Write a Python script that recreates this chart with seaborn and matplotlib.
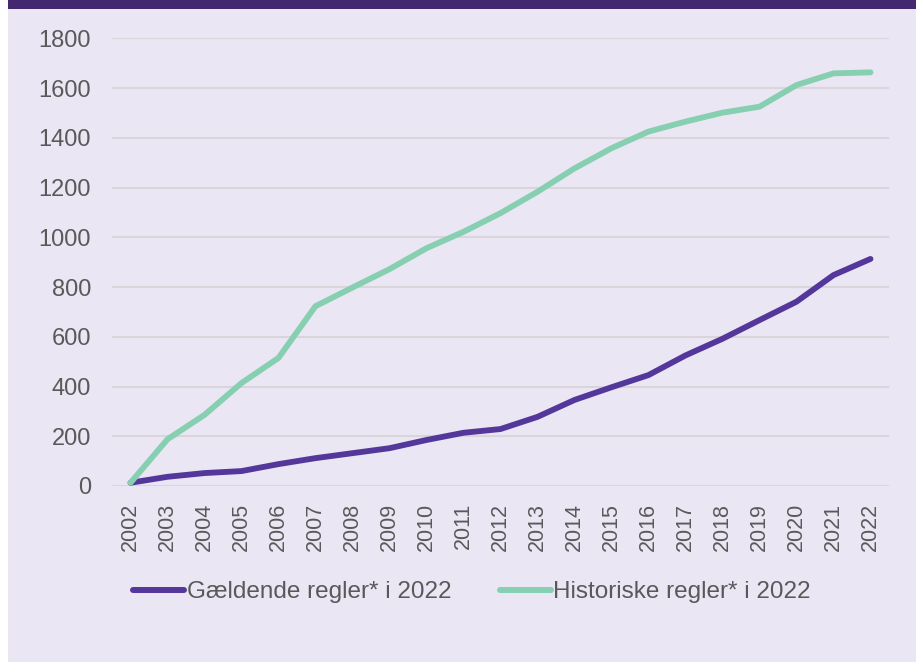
import pandas as pd
import seaborn as sns
import matplotlib.pyplot as plt
from matplotlib.patches import Rectangle

# Data
years = list(range(2002, 2023))
gaeldende = [13, 37, 52, 60, 88, 112, 132, 152, 185, 214, 229, 278, 346, 397, 446, 525, 592, 667, 741, 848, 913]
historiske = [13, 188, 286, 414, 515, 723, 798, 872, 956, 1022, 1097, 1183, 1277, 1358, 1425, 1465, 1501, 1525, 1612, 1659, 1663]
series_names = ["Gældende regler* i 2022", "Historiske regler* i 2022"]
colors = ["#54379A", "#86CFB1"]

df = pd.DataFrame({
    "year": years * 2,
    "value": gaeldende + historiske,
    "serie": [series_names[0]] * len(years) + [series_names[1]] * len(years),
})

sns.set_theme(style="white")
plt.rcParams["font.family"] = ["Liberation Sans", "DejaVu Sans"]

bg = "#EAE6F4"
txt = "#595959"

fig = plt.figure(figsize=(9.16, 6.62), dpi=100, facecolor="white")
# lavender panel + dark band on top
fig.patches.append(Rectangle((8 / 916, 0), 1, 1, transform=fig.transFigure, facecolor=bg, edgecolor="none", zorder=-2))
fig.patches.append(Rectangle((8 / 916, 1 - 9 / 662), 1, 9 / 662, transform=fig.transFigure, facecolor="#44286F", edgecolor="none", zorder=-1))

ax = fig.add_axes([112 / 916, 1 - 486 / 662, (889 - 112) / 916, (486 - 38.3) / 662])
ax.set_facecolor("none")

sns.lineplot(data=df, x="year", y="value", hue="serie", palette=colors, linewidth=4.2,
             ax=ax, legend=False)
for ln in ax.lines:
    ln.set_solid_capstyle("round")
    ln.set_solid_joinstyle("round")

ax.set_xlim(2001.5, 2022.5)
ax.set_ylim(0, 1800)
ax.set_yticks(range(0, 1801, 200))
ax.set_xticks(years)
ax.set_xticklabels([str(y) for y in years], rotation=90, fontsize=15.5, color=txt)
ax.tick_params(axis="y", labelsize=17, labelcolor=txt, length=0, pad=15)
ax.tick_params(axis="x", length=0, pad=12)
ax.yaxis.grid(True, color="#D9D5DA", linewidth=1.5)
ax.set_axisbelow(True)
for s in ax.spines.values():
    s.set_visible(False)
ax.set_xlabel("")
ax.set_ylabel("")

handles = [plt.Line2D([], [], color=c, linewidth=4.3, solid_capstyle="round") for c in colors]
fig.legend(handles, series_names, loc="center", bbox_to_anchor=(472 / 916, 1 - 592 / 662), ncol=2,
           frameon=False, handlelength=2.1, handletextpad=0.1, columnspacing=2.0,
           prop={"family": "Liberation Sans", "size": 17.5}, labelcolor=txt)

fig.savefig("out.png", dpi=100, facecolor="white")
